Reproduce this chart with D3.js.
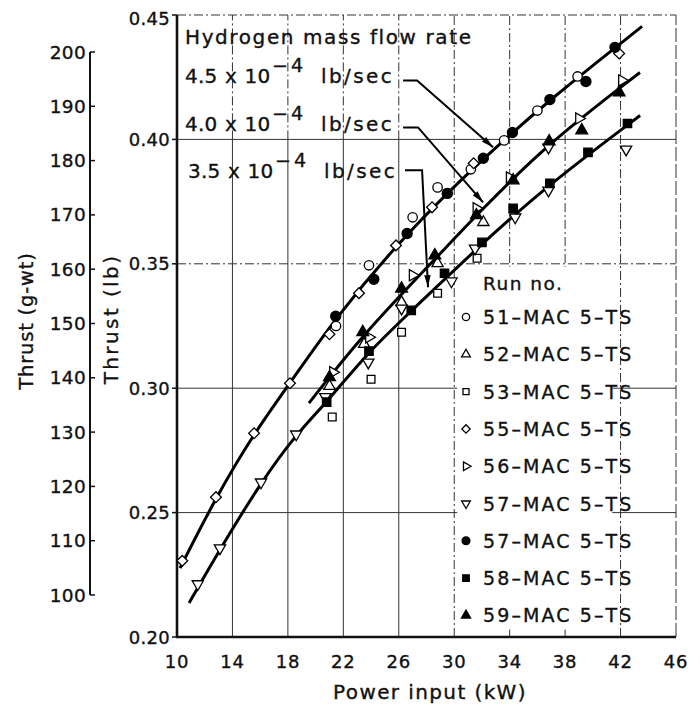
<!DOCTYPE html>
<html>
<head>
<meta charset="utf-8">
<script src="https://cdn.jsdelivr.net/npm/d3@7/dist/d3.min.js"></script>
<style>
  html, body { margin: 0; padding: 0; background: #fff; }
  svg text { font-family: "DejaVu Sans", "Liberation Sans", sans-serif; fill: #111; stroke: #111; stroke-width: 0.35px; }
</style>
</head>
<body>
<svg id="chart" width="700" height="710"></svg>
<script>
// Axis ticks
const powerTicks = [10, 14, 18, 22, 26, 30, 34, 38, 42, 46];
const thrustLbTicks = [0.20, 0.25, 0.30, 0.35, 0.40, 0.45];
const thrustGTicks = [100, 110, 120, 130, 140, 150, 160, 170, 180, 190, 200];

// Measured points, [power kW, thrust lb]
const run51 = [[21.47,0.325],[23.85,0.3494],[27.0,0.3687],[28.8,0.3807],[31.2,0.388],[33.6,0.3996],[36.0,0.4116],[38.9,0.4253]];
const run52 = [[21.0,0.3008],[23.5,0.3177],[26.2,0.3345],[28.8,0.3502],[32.1,0.3667]];
const run53 = [[21.2,0.2884],[24.0,0.3036],[26.2,0.3225],[28.8,0.3382],[31.65,0.3522]];
const run55 = [[10.38,0.2306],[12.81,0.2562],[15.56,0.2819],[18.15,0.302],[21.0,0.3217],[23.13,0.3382],[25.8,0.3574],[28.4,0.3727],[31.4,0.3904],[41.9,0.4345]];
const run56 = [[21.25,0.3064],[23.85,0.3205],[27.0,0.3454],[31.6,0.3723],[34.0,0.3847],[39.0,0.4084],[42.1,0.4237]];
const run57open = [[11.5,0.2213],[13.1,0.2357],[16.06,0.2622],[18.6,0.2815],[20.7,0.2965],[23.8,0.3104],[26.2,0.3321],[29.8,0.343],[31.5,0.3562],[34.4,0.3687],[36.8,0.3795],[36.8,0.3968],[42.4,0.396]];
const run57filled = [[21.45,0.3289],[24.2,0.3438],[26.6,0.3622],[29.5,0.3783],[32.1,0.3924],[34.2,0.4028],[36.9,0.416],[39.5,0.4233],[41.6,0.437]];
const run58 = [[20.8,0.2944],[23.85,0.3149],[26.9,0.3313],[29.3,0.3462],[32.0,0.3586],[34.25,0.3723],[36.9,0.3823],[39.65,0.3948],[42.5,0.4064]];
const run59 = [[21.0,0.3044],[23.4,0.3225],[26.2,0.340],[28.6,0.3534],[31.6,0.3695],[34.25,0.3835],[36.85,0.3992],[39.2,0.4036],[41.9,0.4189]];

// Faired curves for each hydrogen mass flow rate
const curve45 = [[10.22,0.2277],[12.81,0.2562],[15.56,0.2819],[18.15,0.302],[21.40,0.3281],[26.45,0.3618],[32.08,0.3924],[36.91,0.4161],[43.55,0.4454]];
const curve40 = [[19.52,0.294],[23.42,0.3217],[28.61,0.3518],[31.65,0.3699],[36.84,0.3988],[43.4,0.4269]];
const curve35 = [[10.87,0.2137],[13.10,0.2353],[16.06,0.2622],[18.59,0.2815],[20.82,0.2944],[23.78,0.3145],[26.88,0.3309],[32.01,0.3582],[36.91,0.3823],[43.41,0.4096]];

// Flow-rate captions and their leader lines (start, elbow, tip in kW / lb)
const flowRates = ["4.5", "4.0", "3.5"];
const leaders = [
  [[26.31,0.4237],[27.32,0.4237],[32.8,0.3968]],
  [[26.31,0.4048],[27.39,0.4048],[32.08,0.3747]],
  [[26.45,0.3876],[27.68,0.3876],[28.11,0.3406]]
];

const runLabels = ["51–MAC 5–TS","52–MAC 5–TS","53–MAC 5–TS","55–MAC 5–TS","56–MAC 5–TS","57–MAC 5–TS","57–MAC 5–TS","58–MAC 5–TS","59–MAC 5–TS"];

const svg = d3.select("#chart");

const x = d3.scaleLinear().domain([10, 46]).range([177, 676]);
const y = d3.scaleLinear().domain([0.20, 0.45]).range([637, 15]);
const yG = d3.scaleLinear().domain([100, 200]).range([595, 52]);

// Marker definitions: symbol type, rotation, filled
const markerStyles = [
  {type: d3.symbolCircle, rot: 0, fill: false, size: 70},
  {type: d3.symbolTriangle, rot: 0, fill: false, size: 55},
  {type: d3.symbolSquare, rot: 0, fill: false, size: 60},
  {type: d3.symbolSquare, rot: 45, fill: false, size: 58},
  {type: d3.symbolTriangle, rot: 90, fill: false, size: 55},
  {type: d3.symbolTriangle, rot: 180, fill: false, size: 55},
  {type: d3.symbolCircle, rot: 0, fill: true, size: 80},
  {type: d3.symbolSquare, rot: 0, fill: true, size: 70},
  {type: d3.symbolTriangle, rot: 0, fill: true, size: 60}
];
const runs = [run51, run52, run53, run55, run56, run57open, run57filled, run58, run59];

// ---- grid ----
const grid = svg.append("g").attr("stroke", "#333").attr("stroke-width", 1).attr("fill", "none");
const dashDot = "9,3,2,3";
powerTicks.slice(1).forEach(t => {
  const last = t === 46;
  if (t <= 26) {
    grid.append("line").attr("x1", x(t)).attr("x2", x(t)).attr("y1", y(0.20)).attr("y2", y(0.40));
    grid.append("line").attr("x1", x(t)).attr("x2", x(t)).attr("y1", y(0.40)).attr("y2", y(0.45)).attr("stroke-dasharray", dashDot);
  } else {
    grid.append("line").attr("x1", x(t)).attr("x2", x(t)).attr("y1", y(0.20)).attr("y2", y(0.45))
      .attr("stroke-dasharray", last ? "14,3" : dashDot);
  }
});
thrustLbTicks.slice(1).forEach(t => {
  grid.append("line").attr("x1", x(10)).attr("x2", x(46)).attr("y1", y(t)).attr("y2", y(t))
    .attr("stroke-dasharray", (t === 0.35 || t === 0.45) ? dashDot : null);
});

// ---- legend backing (hides grid behind the run list) ----
svg.append("rect")
  .attr("x", x(30) + 3).attr("y", y(0.35) + 3)
  .attr("width", x(41.4) - x(30) - 3).attr("height", y(0.203) - y(0.35) - 3)
  .attr("fill", "#fff");

// ---- axes ----
const axisG = svg.append("g").attr("stroke", "#111").attr("fill", "none");
axisG.append("line").attr("x1", x(10)).attr("x2", x(10)).attr("y1", y(0.45)).attr("y2", y(0.20) + 1).attr("stroke-width", 2.6);
axisG.append("line").attr("x1", x(10) - 1).attr("x2", x(46)).attr("y1", y(0.20)).attr("y2", y(0.20)).attr("stroke-width", 2.6);
thrustLbTicks.forEach(t => {
  axisG.append("line").attr("x1", x(10) - 5).attr("x2", x(10)).attr("y1", y(t)).attr("y2", y(t)).attr("stroke-width", 1.5);
});

// lb tick labels
svg.append("g").selectAll("text").data(thrustLbTicks).join("text")
  .attr("x", x(10) - 7).attr("y", d => y(d) + (d === 0.45 ? 3 : 0))
  .attr("text-anchor", "end").attr("dominant-baseline", "central")
  .attr("font-size", 18).attr("letter-spacing", 0.3).text(d => d.toFixed(2));

// kW tick labels
svg.append("g").selectAll("text").data(powerTicks).join("text")
  .attr("x", d => x(d)).attr("y", 661)
  .attr("text-anchor", "middle").attr("dominant-baseline", "central")
  .attr("font-size", 18).attr("letter-spacing", 0.8).text(d => d);

// g-wt axis
const gAxis = svg.append("g").attr("stroke", "#111").attr("fill", "none");
gAxis.append("line").attr("x1", 90).attr("x2", 90).attr("y1", yG(200)).attr("y2", yG(100)).attr("stroke-width", 2);
thrustGTicks.forEach(t => {
  gAxis.append("line").attr("x1", 90).attr("x2", 95).attr("y1", yG(t)).attr("y2", yG(t)).attr("stroke-width", 1.5);
});
svg.append("g").selectAll("text").data(thrustGTicks).join("text")
  .attr("x", 86).attr("y", d => yG(d))
  .attr("text-anchor", "end").attr("dominant-baseline", "central")
  .attr("font-size", 18.5).attr("letter-spacing", 0.3).text(d => d);

// axis titles
svg.append("text").attr("transform", "translate(26,321) rotate(-90)")
  .attr("text-anchor", "middle").attr("dominant-baseline", "central")
  .attr("font-size", 19.5).attr("letter-spacing", 0.8).text("Thrust (g-wt)");
svg.append("text").attr("transform", "translate(111,319) rotate(-90)")
  .attr("text-anchor", "middle").attr("dominant-baseline", "central")
  .attr("font-size", 20).attr("letter-spacing", 2.4).text("Thrust (lb)");
svg.append("text").attr("x", 430).attr("y", 692)
  .attr("text-anchor", "middle").attr("dominant-baseline", "central")
  .attr("font-size", 20).attr("letter-spacing", 1.4).text("Power input (kW)");

// ---- faired curves ----
const lineGen = d3.line().x(d => x(d[0])).y(d => y(d[1])).curve(d3.curveBasis);
svg.append("g").selectAll("path").data([curve45, curve40, curve35]).join("path")
  .attr("d", lineGen).attr("fill", "none").attr("stroke", "#000").attr("stroke-width", 3);

// ---- data markers ----
function drawMarker(g, style, cx, cy, scale) {
  g.append("path")
    .attr("d", d3.symbol().type(style.type).size(style.size * scale)())
    .attr("transform", `translate(${cx},${cy}) rotate(${style.rot})`)
    .attr("fill", style.fill ? "#000" : "#fff")
    .attr("stroke", "#000").attr("stroke-width", 1.3);
}
const markG = svg.append("g");
runs.forEach((pts, i) => {
  pts.forEach(p => drawMarker(markG, markerStyles[i], x(p[0]), y(p[1]), 1));
});

// ---- leaders and flow-rate captions ----
const capG = svg.append("g");
capG.append("text").attr("x", 185).attr("y", 44).attr("font-size", 20).attr("letter-spacing", 1.6)
  .text("Hydrogen mass flow rate");
const capBaselines = [83, 131, 178];
const capX = [185, 185, 188];
const expX = [272, 272, 275];
const unitX = [321, 321, 324];
flowRates.forEach((r, i) => {
  const t = capG.append("text").attr("y", capBaselines[i]).attr("font-size", 20);
  t.append("tspan").attr("x", capX[i]).attr("letter-spacing", 0.2).attr("word-spacing", 1).text(`${r} x 10`);
  t.append("tspan").attr("x", expX[i]).attr("dy", -11).attr("font-size", 19).attr("letter-spacing", 3).text("−4");
  t.append("tspan").attr("x", unitX[i]).attr("dy", 11).attr("letter-spacing", 2.4).text("lb/sec");
});
leaders.forEach(pts => {
  const p = pts.map(d => [x(d[0]), y(d[1])]);
  capG.append("path").attr("d", d3.line()(p)).attr("fill", "none").attr("stroke", "#000").attr("stroke-width", 2);
  const [bx, by] = p[1], [tx, ty] = p[2];
  const len = Math.hypot(tx - bx, ty - by), ux = (tx - bx) / len, uy = (ty - by) / len;
  const L = 12, W = 3.2;
  const baseX = tx - ux * L, baseY = ty - uy * L;
  capG.append("path")
    .attr("d", `M${tx},${ty}L${baseX - uy * W},${baseY + ux * W}L${baseX + uy * W},${baseY - ux * W}Z`)
    .attr("fill", "#000");
});

// ---- legend ----
const legG = svg.append("g");
legG.append("text").attr("x", 483).attr("y", 283).attr("dominant-baseline", "central")
  .attr("font-size", 18.5).attr("letter-spacing", 1.5).text("Run no.");
runLabels.forEach((lab, i) => {
  const cy = 317 + i * 37.3;
  drawMarker(legG, markerStyles[i], 466, cy, 0.6);
  legG.append("text").attr("x", 483).attr("y", cy).attr("dominant-baseline", "central")
    .attr("font-size", 19).attr("letter-spacing", 2.1).text(lab);
});
</script>
</body>
</html>
